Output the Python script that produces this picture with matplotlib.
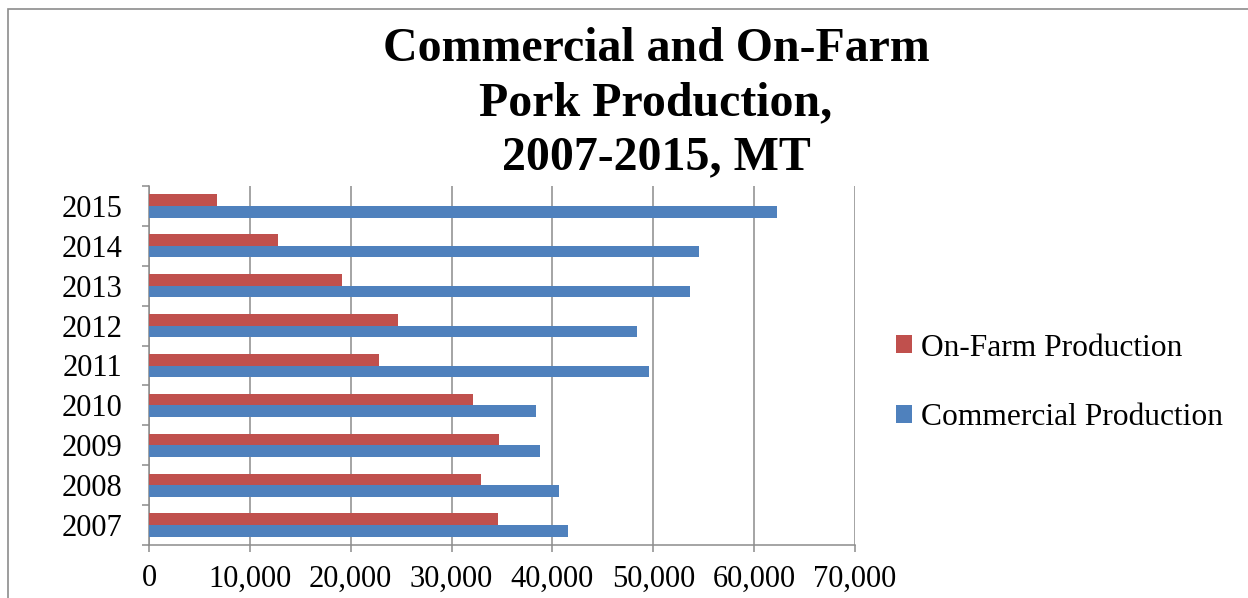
import numpy as np
import matplotlib
matplotlib.use('Agg')
import matplotlib.pyplot as plt
from matplotlib.patches import Rectangle
from matplotlib.ticker import FuncFormatter, FixedLocator

# data (metric tons)
years = ['2007', '2008', '2009', '2010', '2011', '2012', '2013', '2014', '2015']
on_farm = [34600, 32950, 34700, 32100, 22800, 24650, 19100, 12800, 6750]
commercial = [41550, 40700, 38800, 38400, 49550, 48400, 53600, 54500, 62300]

col_red = '#C0504D'
col_blue = '#4F81BD'
col_grid = '#8C8C8C'

plt.rcParams['font.family'] = ['Liberation Serif', 'DejaVu Serif']

fig = plt.figure(figsize=(12.48, 5.98), dpi=100)
ax = fig.add_axes([149 / 1248, 1 - 545 / 598, (855 - 149) / 1248, (545 - 186) / 598])

y = np.arange(len(years))
bh = 0.29
ax.barh(y + bh / 2, on_farm, height=bh, color=col_red, label='On-Farm Production', zorder=3)
ax.barh(y - bh / 2, commercial, height=bh, color=col_blue, label='Commercial Production', zorder=3)

ax.set_xlim(0, 70000)
ax.set_ylim(-0.5, len(years) - 0.5)
ax.set_xticks(np.arange(0, 70001, 10000))
ax.xaxis.set_major_formatter(FuncFormatter(lambda v, p: f'{int(v):,}'))
ax.set_yticks(y)
ax.set_yticklabels(years)
ax.yaxis.set_minor_locator(FixedLocator(np.arange(-0.5, len(years), 1.0)))

ax.grid(axis='x', color=col_grid, linewidth=1.1, zorder=0)
for s in ['top', 'right']:
    ax.spines[s].set_visible(False)
for s in ['left', 'bottom']:
    ax.spines[s].set_color(col_grid)
    ax.spines[s].set_linewidth(1.1)

ax.tick_params(axis='y', which='major', length=0, pad=19, labelsize=22)
ax.tick_params(axis='y', which='minor', length=5, color=col_grid, width=1.1)
ax.tick_params(axis='x', which='major', length=5, color=col_grid, width=1.1, pad=9, labelsize=22)

fig.text(656 / 1248, 1 - 103 / 598, 'Commercial and On-Farm\nPork Production,\n2007-2015, MT',
         ha='center', va='center', fontsize=34.5, fontweight='bold', linespacing=1.3)

handles, labels = ax.get_legend_handles_labels()
fig.legend(handles, labels, loc='center left', bbox_to_anchor=(896 / 1248, 1 - 383 / 598),
           frameon=False, fontsize=22.7, handlelength=0.5, handleheight=0.5,
           handletextpad=0.3, labelspacing=1.3, borderpad=0, borderaxespad=0)

# chart frame (only top and left edges visible in the crop)
fig.patches.append(Rectangle((8 / 1248, -0.1), 1.2, 1 - 9 / 598 + 0.1, transform=fig.transFigure,
                             fill=False, edgecolor='#8C8C8C', linewidth=1.2))

fig.savefig('out.png', dpi=100)
